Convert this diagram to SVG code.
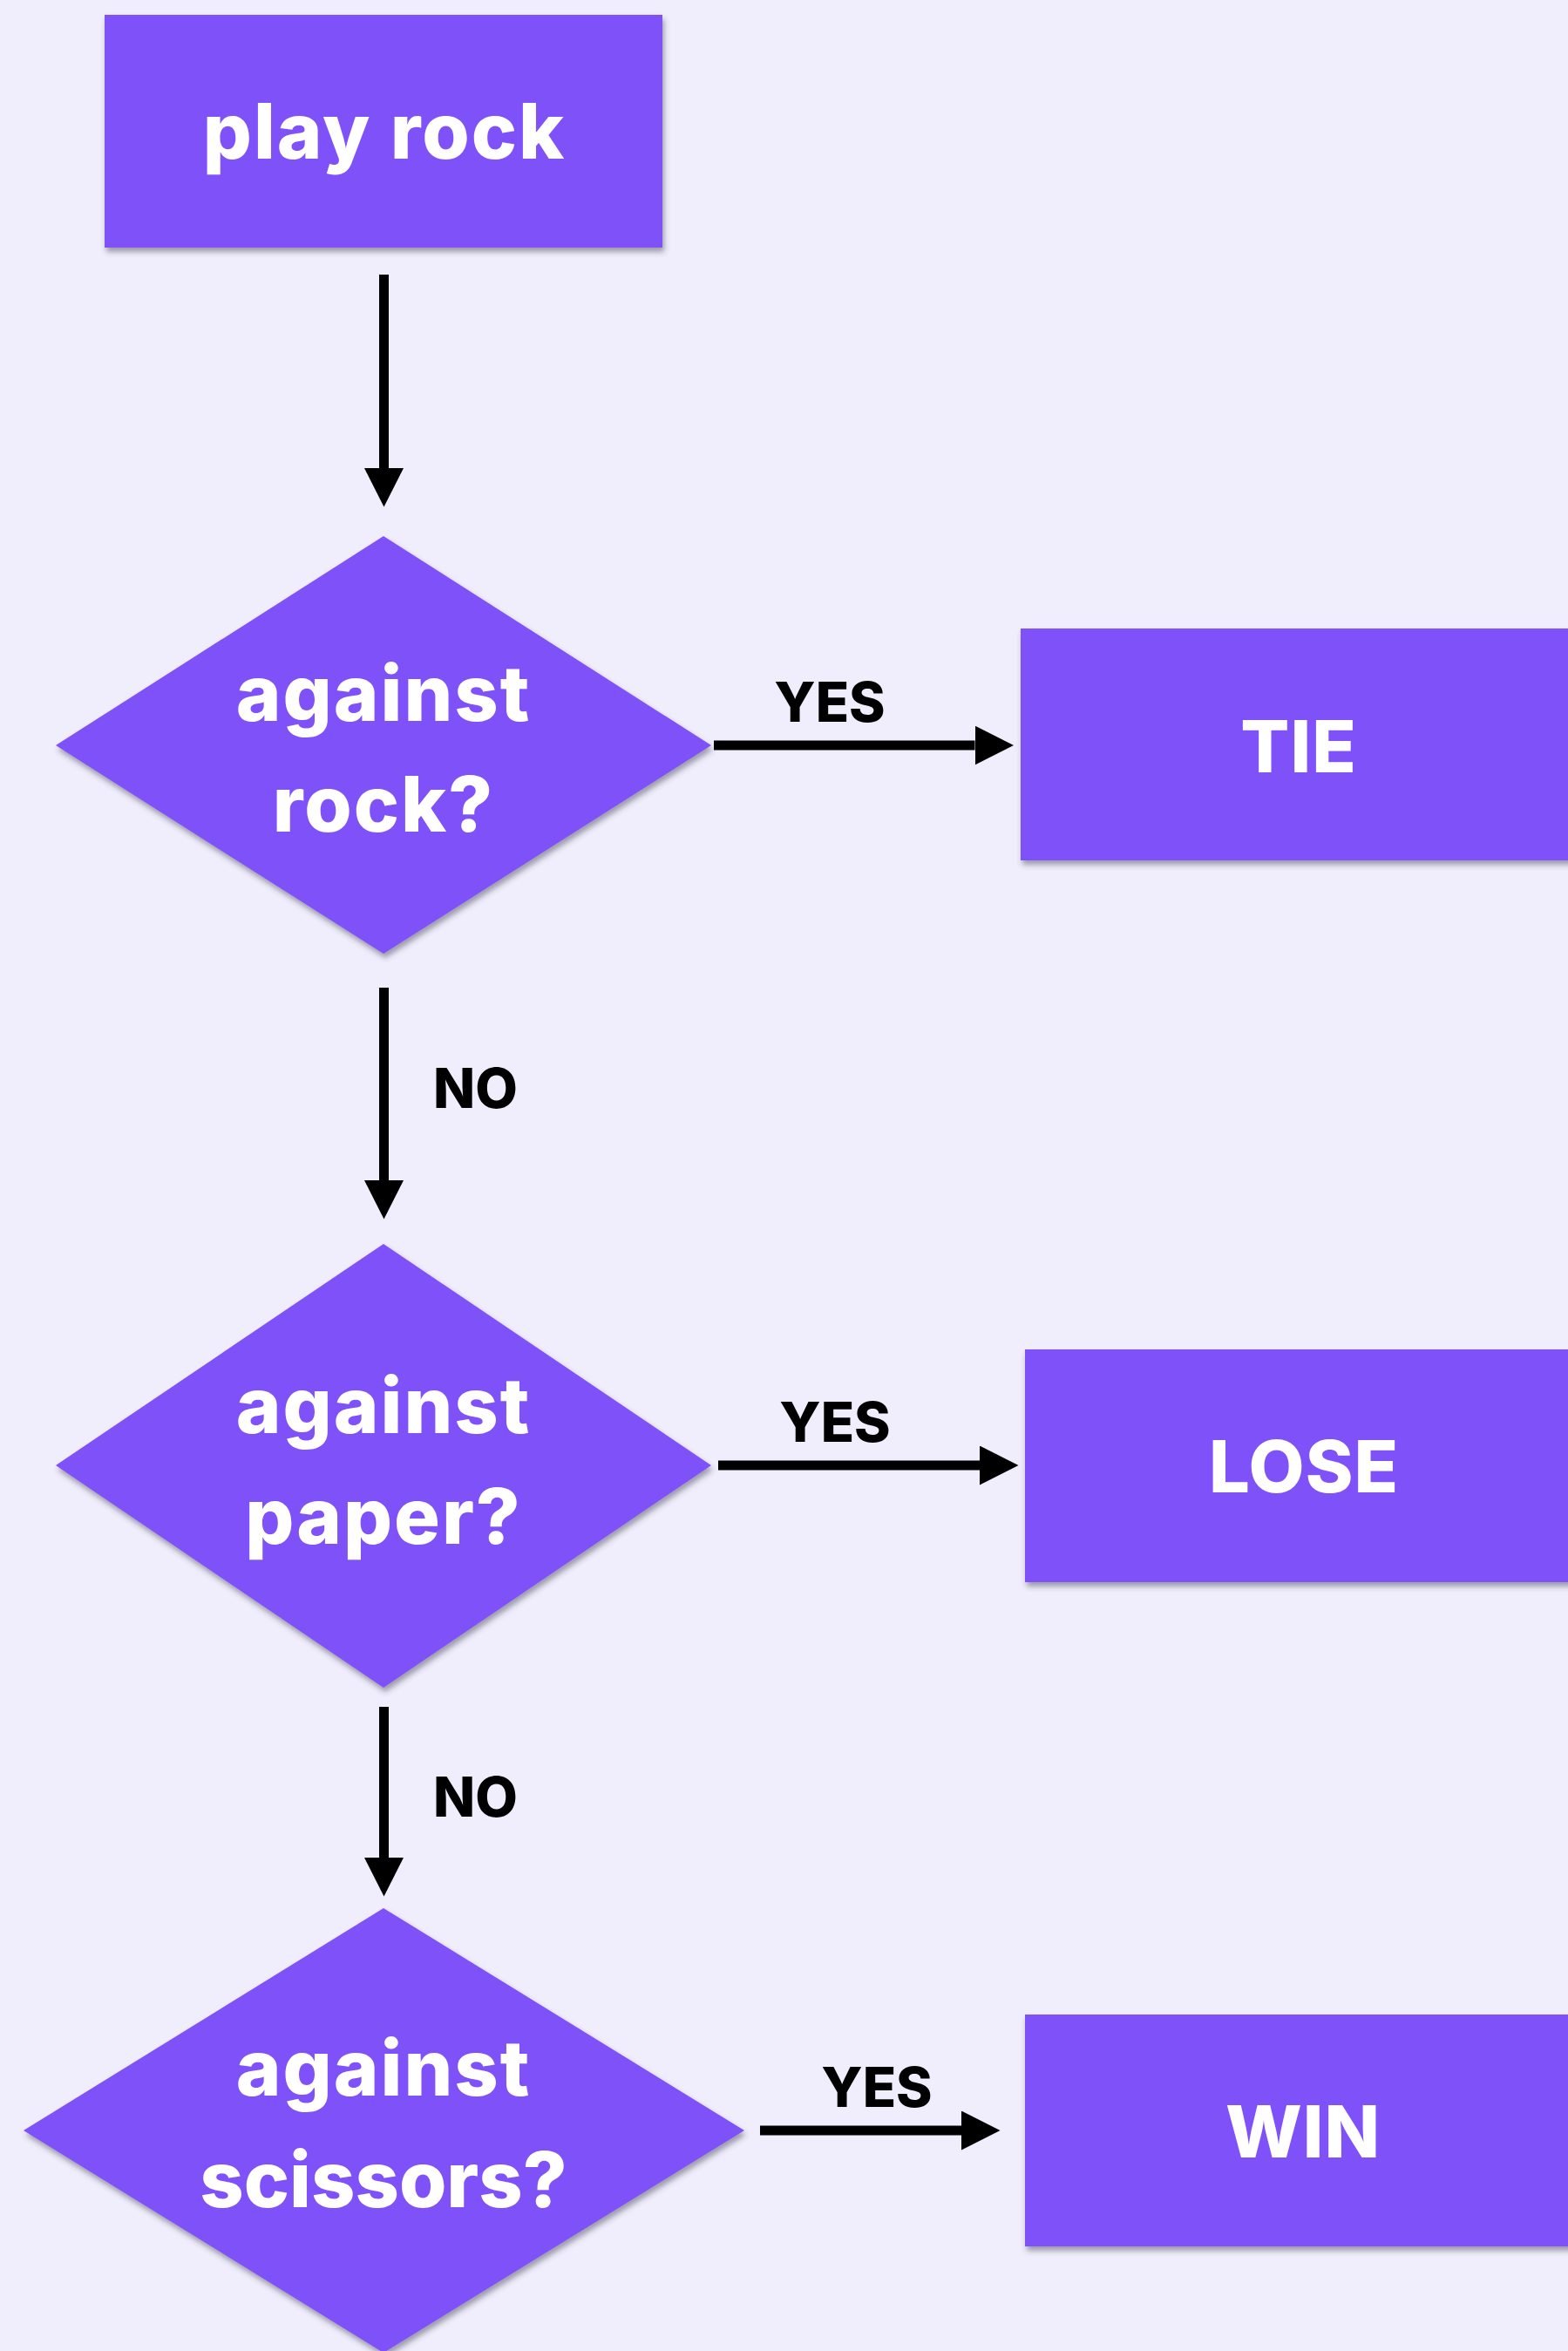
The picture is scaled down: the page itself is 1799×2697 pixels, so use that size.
<svg xmlns="http://www.w3.org/2000/svg" width="1799" height="2697" viewBox="0 0 1799 2697">
<style>
.node{fill:#7F51F8;filter:url(#sh)}
.t{font-family:Inter,"Open Sans","Liberation Sans",sans-serif;font-weight:800;fill:#FFFFFF;text-anchor:middle}
.big{font-size:88px;letter-spacing:2px}
.tight{letter-spacing:0px}
.term{font-size:83px;letter-spacing:1px}
.lbl{font-family:Inter,"Open Sans","Liberation Sans",sans-serif;font-weight:800;font-size:63px;fill:#000000}
.edge{stroke:#000000;stroke-width:11;fill:none;marker-end:url(#ah)}
</style>
<defs>
<filter id="sh" x="-10%" y="-10%" width="120%" height="125%">
<feDropShadow dx="2" dy="5" stdDeviation="3" flood-color="#333344" flood-opacity="0.45"/>
</filter>
<marker id="ah" markerUnits="userSpaceOnUse" markerWidth="45" markerHeight="46" refX="0" refY="22.5" orient="auto" viewBox="0 0 45 46">
<path d="M0,0 L44.5,22.5 L0,45 Z" fill="#000000"/>
</marker>
</defs>
<rect width="1799" height="2697" fill="#F0EEFC"/>
<g id="connectors">
<line class="edge" x1="440.5" y1="315" x2="440.5" y2="537"/>
<line class="edge" x1="819" y1="855" x2="1118.5" y2="855"/>
<line class="edge" x1="440.5" y1="1133" x2="440.5" y2="1354"/>
<line class="edge" x1="824" y1="1681" x2="1124" y2="1681"/>
<line class="edge" x1="440.5" y1="1958" x2="440.5" y2="2131"/>
<line class="edge" x1="872" y1="2444" x2="1103" y2="2444"/>
<text class="lbl" x="952" y="828" text-anchor="middle">YES</text>
<text class="lbl" x="497" y="1271">NO</text>
<text class="lbl" x="958" y="1654" text-anchor="middle">YES</text>
<text class="lbl" x="497" y="2084">NO</text>
<text class="lbl" x="1006" y="2417" text-anchor="middle">YES</text>
</g>
<g id="play-rock">
<rect class="node" x="120" y="17" width="640" height="267"/>
<text class="t big" x="441" y="182">play rock</text>
</g>
<g id="against-rock">
<polygon class="node" points="440,615 816,855 440,1094 64,855"/>
<text class="t big" x="440" y="827">against</text>
<text class="t big" x="440" y="954">rock?</text>
</g>
<g id="tie">
<rect class="node" x="1171" y="721" width="640" height="266"/>
<text class="t term" x="1490" y="886">TIE</text>
</g>
<g id="against-paper">
<polygon class="node" points="440,1427 816,1681 440,1936 64,1681"/>
<text class="t big" x="440" y="1644">against</text>
<text class="t big" x="440" y="1771">paper?</text>
</g>
<g id="lose">
<rect class="node" x="1176" y="1548" width="640" height="267"/>
<text class="t term" x="1496" y="1712">LOSE</text>
</g>
<g id="against-scissors">
<polygon class="node" points="440,2189 854,2444 440,2699 27,2444"/>
<text class="t big" x="440" y="2404">against</text>
<text class="t big tight" x="440" y="2532">scissors?</text>
</g>
<g id="win">
<rect class="node" x="1176" y="2311" width="640" height="266"/>
<text class="t term" x="1495" y="2475">WIN</text>
</g>
</svg>
